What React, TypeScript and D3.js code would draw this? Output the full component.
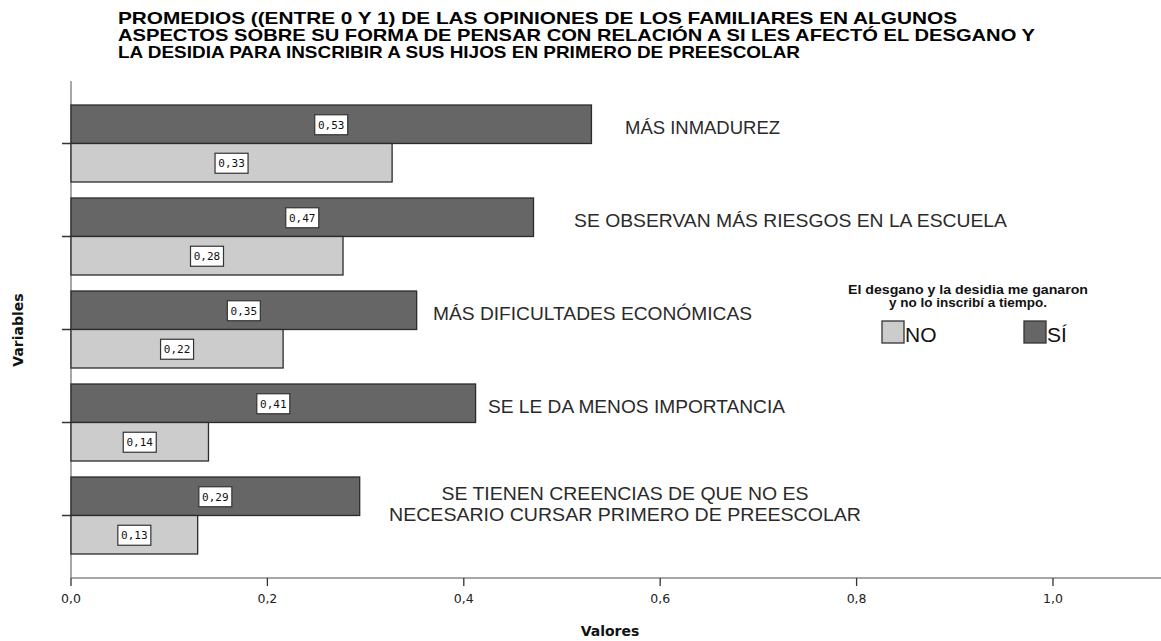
import React from "react";
import * as d3 from "d3";

const categories = [
  "MÁS INMADUREZ",
  "SE OBSERVAN MÁS RIESGOS EN LA ESCUELA",
  "MÁS DIFICULTADES ECONÓMICAS",
  "SE LE DA MENOS IMPORTANCIA",
  "SE TIENEN CREENCIAS DE QUE NO ES\nNECESARIO CURSAR PRIMERO DE PREESCOLAR",
];
const seriesNames = ["SÍ", "NO"];
const valuesSi = [0.53, 0.471, 0.352, 0.412, 0.294];
const valuesNo = [0.327, 0.277, 0.216, 0.14, 0.129];
const xTicks = [0, 0.2, 0.4, 0.6, 0.8, 1.0];
const titleLines = [
  "PROMEDIOS ((ENTRE 0 Y 1) DE LAS OPINIONES DE LOS FAMILIARES EN ALGUNOS",
  "ASPECTOS SOBRE SU FORMA DE PENSAR CON RELACIÓN A SI LES AFECTÓ EL DESGANO Y",
  "LA DESIDIA PARA INSCRIBIR A SUS HIJOS EN PRIMERO DE PREESCOLAR",
];
const legendTitle = ["El desgano y la desidia me ganaron", "y no lo inscribí a tiempo."];
const legendItems = ["NO", "SÍ"];

// layout (label placement, not data)
const labelLayout = [
  { x: 625, anchor: "start", widths: [155] },
  { x: 574, anchor: "start", widths: [433] },
  { x: 433, anchor: "start", widths: [319] },
  { x: 488, anchor: "start", widths: [297] },
  { x: 625, anchor: "middle", widths: [367, 472] },
];
const titleWidths = [839, 917, 682];
const legendTitleWidths = [240, 158];

const colors: Record<string, string> = { "SÍ": "#666666", NO: "#cccccc" };

export default function App() {
  const W = 1161, H = 641;
  const x = d3.scaleLinear().domain([0, 1.11]).range([71, 1161]);
  const y = d3.scaleBand<string>().domain(categories).range([97, 562]).padding(0);
  const groupH = 77;
  const sub = d3.scaleBand<string>().domain(seriesNames).range([0, groupH]).padding(0);
  const fmt = (v: number) => d3.format(".2f")(v).replace(".", ",");
  const tickFmt = (v: number) => d3.format(".1f")(v).replace(".", ",");
  const axisY = 578;
  const font = "'Liberation Sans', Arial, sans-serif";

  return (
    <svg width={W} height={H} style={{ position: "absolute", left: 0, top: 0, background: "#fff" }}>
      <rect x={0} y={0} width={W} height={H} fill="#fff" />
      {/* title */}
      {titleLines.map((t, i) => (
        <text key={i} x={118} y={24 + i * 17} fontFamily={font} fontWeight="bold" fontSize={17}
          textLength={titleWidths[i]} lengthAdjust="spacingAndGlyphs" fill="#000">{t}</text>
      ))}
      {/* y axis */}
      <line x1={71} x2={71} y1={81} y2={axisY} stroke="#8a8a8a" strokeWidth={1.5} />
      {categories.map((c) => {
        const cy = (y(c) as number) + y.bandwidth() / 2;
        return <line key={c} x1={62} x2={71} y1={cy} y2={cy} stroke="#333" strokeWidth={1.5} />;
      })}
      {/* bars */}
      {categories.map((c, i) => {
        const cy = (y(c) as number) + y.bandwidth() / 2;
        const top = cy - groupH / 2;
        const vals: Record<string, number> = { "SÍ": valuesSi[i], NO: valuesNo[i] };
        return (
          <g key={c}>
            {seriesNames.map((s) => {
              const by = top + (sub(s) as number);
              const bw = x(vals[s]) - x(0);
              const cx = x(0) + bw / 2;
              const my = by + sub.bandwidth() / 2;
              return (
                <g key={s}>
                  <rect x={x(0)} y={by} width={bw} height={sub.bandwidth()} fill={colors[s]} stroke="#2b2b2b" strokeWidth={1.3} />
                  <rect x={cx - 16.5} y={my - 9.5} width={33} height={20} fill="#fff" stroke="#333" strokeWidth={1.2} />
                  <text x={cx} y={my + 4.5} textAnchor="middle" fontFamily="'DejaVu Sans Mono', monospace" fontSize={11} fill="#111">{fmt(vals[s])}</text>
                </g>
              );
            })}
          </g>
        );
      })}
      {/* category labels */}
      {categories.map((c, i) => {
        const cy = (y(c) as number) + y.bandwidth() / 2;
        const lines = c.split("\n");
        const L = labelLayout[i];
        const barMid = cy - groupH / 4;
        const firstBase = barMid + 10 - (lines.length - 1) * 10.5 + (lines.length > 1 ? 4 : 0);
        return (
          <g key={c}>
            {lines.map((ln, k) => (
              <text key={k} x={L.x} y={firstBase + k * 21} fontFamily={font} fontSize={18} fill="#2a2a2a"
                textAnchor={L.anchor as any} textLength={L.widths[k]} lengthAdjust="spacingAndGlyphs">{ln}</text>
            ))}
          </g>
        );
      })}
      {/* x axis */}
      <line x1={71} x2={1161} y1={axisY} y2={axisY} stroke="#8a8a8a" strokeWidth={1.5} />
      {xTicks.map((t) => (
        <g key={t}>
          <line x1={x(t)} x2={x(t)} y1={axisY} y2={axisY + 8} stroke="#333" strokeWidth={1.3} />
          <text x={x(t)} y={axisY + 25} textAnchor="middle" fontFamily="'DejaVu Sans', sans-serif" fontSize={12.5} fill="#222">{tickFmt(t)}</text>
        </g>
      ))}
      <text x={610} y={636} textAnchor="middle" fontFamily="'DejaVu Sans', sans-serif" fontWeight="bold" fontSize={14} fill="#111">Valores</text>
      <text transform="translate(23,330) rotate(-90)" textAnchor="middle" fontFamily="'DejaVu Sans', sans-serif" fontWeight="bold" fontSize={14} fill="#111">Variables</text>
      {/* legend */}
      {legendTitle.map((t, i) => (
        <text key={i} x={968} y={294 + i * 13} textAnchor="middle" fontFamily={font} fontWeight="bold" fontSize={12.5}
          textLength={legendTitleWidths[i]} lengthAdjust="spacingAndGlyphs" fill="#111">{t}</text>
      ))}
      {legendItems.map((s, i) => {
        const lx = i === 0 ? 882 : 1024;
        return (
          <g key={s}>
            <rect x={lx} y={321} width={22} height={22} fill={colors[s]} stroke="#333" strokeWidth={1.3} />
            <text x={lx + 23} y={342} fontFamily={font} fontSize={21} fill="#111">{s}</text>
          </g>
        );
      })}
    </svg>
  );
}
